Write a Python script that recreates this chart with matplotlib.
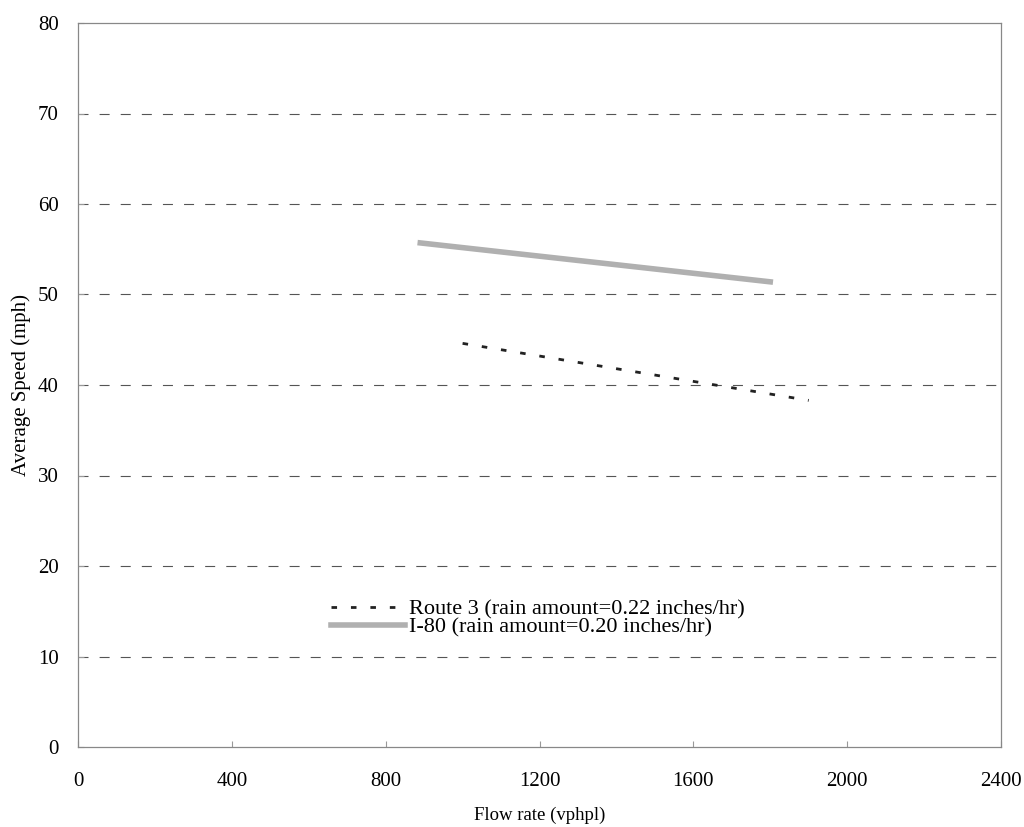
import matplotlib.pyplot as plt
import numpy as np

plt.rcParams['font.family'] = ['Liberation Serif', 'DejaVu Serif']

# data
route3_flow = [1000, 1900]
route3_speed = [44.6, 38.3]
i80_flow = [890, 1800]
i80_speed = [55.7, 51.4]

x_ticks = [0, 400, 800, 1200, 1600, 2000, 2400]
y_ticks = [0, 10, 20, 30, 40, 50, 60, 70, 80]

fig = plt.figure(figsize=[10.24, 8.27], dpi=100, facecolor='white')
ax = fig.add_axes([78 / 1024, 1 - 747 / 827, 923 / 1024, 724 / 827])

for yv in y_ticks[1:-1]:
    ax.axhline(yv, color='#555555', linestyle=(0, (9, 10)), linewidth=0.8, zorder=1)

ax.plot(route3_flow, route3_speed, color='#222222', linestyle=(0, (2, 5)),
        linewidth=2, label='Route 3 (rain amount=0.22 inches/hr)', zorder=3)
ax.plot(i80_flow, i80_speed, color='#b0b0b0', linewidth=4,
        label='I-80 (rain amount=0.20 inches/hr)', zorder=2)

ax.set_xlim(0, 2400)
ax.set_ylim(0, 80)
ax.set_xticks(x_ticks)
ax.set_yticks(y_ticks)
ax.tick_params(direction='in', length=4, color='#999999', labelsize=15, pad=18)
ax.tick_params(axis='y', pad=14)
for s in ax.spines.values():
    s.set_color('#888888')
    s.set_linewidth(0.9)

ax.set_xlabel('Flow rate (vphpl)', fontsize=13.5, labelpad=11)
ax.set_ylabel('Average Speed (mph)', fontsize=15, labelpad=5)

ax.legend(loc='upper left', bbox_to_anchor=(0.2625, 0.22), frameon=False,
          fontsize=16, handlelength=3.3, handletextpad=0.2, labelspacing=-0.1,
          borderpad=0)

plt.savefig('out.png', dpi=100)
